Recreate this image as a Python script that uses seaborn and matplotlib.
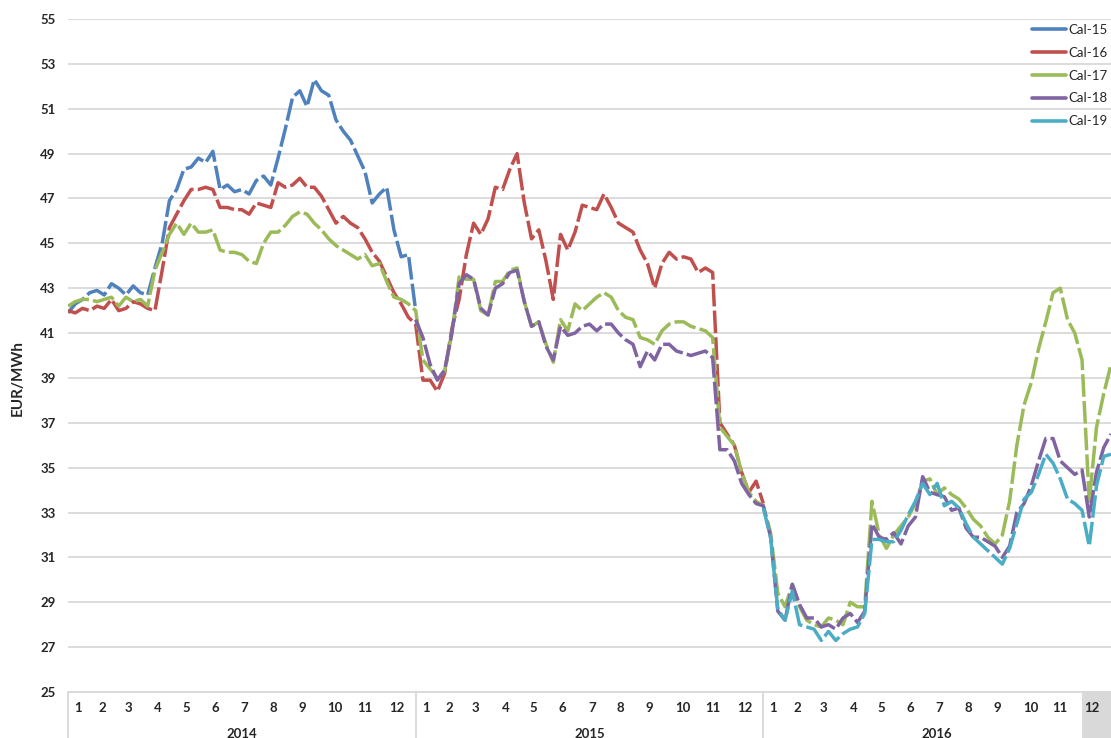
import numpy as np
import pandas as pd
import matplotlib
matplotlib.use('Agg')
import matplotlib.pyplot as plt
import matplotlib.transforms as mtransforms
from matplotlib.lines import Line2D
import seaborn as sns

# readings every quarter month, x = months since Jan 2014
step = 0.25

# Cal-15: Jan 2014 .. Jan 2015
cal15 = [41.9, 42.3, 42.5, 42.8, 42.9, 42.7, 43.2, 43.0, 42.7, 43.1, 42.8, 42.7, 43.9,
         45.0, 46.9, 47.4, 48.3, 48.4, 48.8, 48.6, 49.1, 47.4, 47.6, 47.3, 47.4,
         47.2, 47.8, 48.0, 47.6, 48.8, 50.1, 51.5, 51.8, 51.1, 52.3, 51.8, 51.6,
         50.5, 50.0, 49.6, 48.9, 48.2, 46.8, 47.2, 47.5, 45.6, 44.4, 44.5, 42.0]
# Cal-16: Jan 2014 .. Jan 2016
cal16 = [42.0, 41.9, 42.1, 42.0, 42.2, 42.1, 42.5, 42.0, 42.1, 42.4, 42.3, 42.1, 42.0,
         43.8, 45.7, 46.3, 46.9, 47.4, 47.4, 47.5, 47.4, 46.6, 46.6, 46.5, 46.5,
         46.3, 46.8, 46.7, 46.6, 47.7, 47.5, 47.6, 47.9, 47.5, 47.5, 47.1, 46.5,
         45.9, 46.2, 45.9, 45.7, 45.2, 44.6, 44.2, 43.5, 42.8, 42.3, 41.7, 41.4,
         38.9, 38.9, 38.4, 39.2, 41.2, 42.5, 44.5, 45.9, 45.4, 46.1, 47.5, 47.4,
         48.3, 49.0, 46.8, 45.2, 45.6, 44.2, 42.5, 45.4, 44.7, 45.5, 46.7, 46.6,
         46.5, 47.2, 46.6, 45.9, 45.7, 45.5, 44.7, 44.1, 43.0, 44.1, 44.6, 44.3,
         44.4, 44.3, 43.7, 43.9, 43.7, 37.0, 36.5, 36.0, 34.8, 33.9, 34.4, 33.4]
# Cal-17: Jan 2014 .. Dec 2016
cal17 = [42.2, 42.4, 42.5, 42.5, 42.4, 42.5, 42.6, 42.2, 42.6, 42.4, 42.5, 42.2, 43.8,
         44.6, 45.4, 45.9, 45.4, 45.9, 45.5, 45.5, 45.6, 44.7, 44.6, 44.6, 44.5,
         44.2, 44.1, 45.0, 45.5, 45.5, 45.8, 46.2, 46.4, 46.3, 45.9, 45.6, 45.2,
         44.9, 44.7, 44.5, 44.3, 44.5, 44.0, 44.1, 43.3, 42.6, 42.5, 42.3, 42.0,
         39.8, 39.4, 39.0, 39.3, 41.0, 43.5, 43.4, 43.4, 42.0, 41.8, 43.3, 43.3,
         43.8, 43.9, 42.4, 41.3, 41.5, 40.5, 39.7, 41.6, 41.1, 42.3, 42.0, 42.3,
         42.6, 42.8, 42.6, 42.0, 41.7, 41.6, 40.8, 40.7, 40.5, 41.1, 41.4, 41.5,
         41.5, 41.3, 41.2, 41.1, 40.8, 36.8, 36.4, 36.0, 34.8, 33.9, 33.5, 33.3,
         32.1, 29.4, 28.8, 29.8, 28.8, 28.2, 28.0, 27.9, 28.3, 28.2, 28.0, 29.0,
         28.8, 28.8, 33.5, 32.0, 31.4, 32.0, 32.4, 32.8, 33.4, 34.4, 34.5, 33.8,
         34.1, 33.8, 33.6, 33.2, 32.7, 32.4, 31.9, 31.6, 32.0, 33.5, 36.0, 37.8,
         38.8, 40.3, 41.5, 42.8, 43.0, 41.6, 41.0, 39.8, 33.5, 36.8, 38.3, 39.6]
# Cal-18: Jan 2015 .. Dec 2016
cal18 = [41.6, 40.8, 39.6, 38.9, 39.35, 41.0, 43.2, 43.6, 43.4, 42.1, 41.8, 43.0, 43.2,
         43.7, 43.8, 42.4, 41.3, 41.5, 40.4, 39.8, 41.3, 40.9, 41.0, 41.3, 41.4,
         41.1, 41.4, 41.4, 41.0, 40.7, 40.5, 39.5, 40.2, 39.8, 40.5, 40.5, 40.2,
         40.1, 40.0, 40.1, 40.2, 39.9, 35.8, 35.8, 35.3, 34.3, 33.8, 33.4, 33.3,
         31.9, 28.6, 28.2, 29.8, 28.9, 28.3, 28.3, 27.9, 28.0, 27.8, 28.3, 28.5,
         28.1, 28.6, 32.5, 31.9, 31.8, 32.1, 31.6, 32.4, 32.8, 34.6, 33.9, 33.8,
         33.7, 33.1, 33.2, 32.3, 31.9, 31.9, 31.7, 31.5, 31.0, 31.5, 33.0, 33.4,
         34.2, 35.3, 36.3, 36.3, 35.3, 35.0, 34.7, 34.9, 32.8, 34.8, 35.9, 36.5]
# Cal-19: Jan 2016 .. Dec 2016
cal19 = [33.2, 31.9, 28.7, 28.2, 29.5, 28.0, 27.9, 27.8, 27.3, 27.7, 27.3, 27.6, 27.8,
         27.9, 28.5, 31.8, 31.8, 31.7, 31.7, 32.2, 32.9, 33.5, 34.3, 33.8, 34.3,
         33.3, 33.5, 33.2, 32.5, 31.9, 31.6, 31.3, 31.0, 30.7, 31.4, 32.5, 33.6,
         33.9, 34.7, 35.6, 35.2, 34.5, 33.6, 33.4, 33.1, 31.5, 34.2, 35.5, 35.6]

contracts = ['Cal-15', 'Cal-16', 'Cal-17', 'Cal-18', 'Cal-19']
start_month = [0, 0, 0, 12, 24]
values = [cal15, cal16, cal17, cal18, cal19]
colors = ['#4F81BD', '#C0504D', '#9BBB59', '#8064A2', '#4BACC6']

years = ['2014', '2015', '2016']
months = [str(m) for m in range(1, 13)]

rows = []
for name, s, vals in zip(contracts, start_month, values):
    for i, v in enumerate(vals):
        rows.append({'month': s + i * step, 'price': v, 'contract': name})
df = pd.DataFrame(rows)

sns.set_style('white')
plt.rcParams['font.family'] = ['Lato', 'DejaVu Sans']

W, H = 1111, 738
fig = plt.figure(figsize=(W / 100, H / 100), dpi=100)
ax = fig.add_axes([68 / W, 1 - 692 / H, 1 - 68 / W, (692 - 19) / H])

sns.lineplot(data=df, x='month', y='price', hue='contract', hue_order=contracts,
             palette=dict(zip(contracts, colors)), estimator=None, lw=2.5,
             legend=False, ax=ax)
for ln in ax.get_lines():
    ln.set_dashes((6.5, 1.2))

ax.set_xlim(0, 36)
ax.set_ylim(25, 55)
ax.set_yticks(range(25, 56, 2))
ax.set_xticks([])
ax.set_xlabel('')
ax.set_ylabel('')
ax.yaxis.grid(True, color='#D9D9D9', lw=1.3)
ax.set_axisbelow(True)
for side in ['left', 'top', 'right']:
    ax.spines[side].set_visible(False)
ax.spines['bottom'].set_color('#D9D9D9')
ax.spines['bottom'].set_linewidth(1.3)
ax.tick_params(axis='y', length=0, pad=9, labelsize=9.5)
for t in ax.get_yticklabels():
    t.set_fontweight('bold')

fig.text(18 / W, 1 - 378 / H, 'EUR/MWh', rotation=90, ha='center', va='center',
         fontweight='bold', fontsize=11)

# two level category axis below the plot
trans = mtransforms.blended_transform_factory(ax.transData, ax.transAxes)
ax.axvspan(35, 36, ymin=-0.07, ymax=0, clip_on=False, facecolor='#D9D9D9',
           edgecolor='none', zorder=0)
for k in range(4):
    ax.axvline(12 * k, ymin=-0.07, ymax=0, clip_on=False, color='#D9D9D9', lw=1.3)
label_pos = [0.345, 1.17, 2.07, 3.11, 4.07, 5.07, 6.08, 7.08, 8.08, 9.22, 10.25, 11.35]
for k, yr in enumerate(years):
    for pos, m in zip(label_pos, months):
        ax.text(12 * k + pos, -0.0238, m, transform=trans, ha='center', va='center',
                fontweight='bold', fontsize=9.5, clip_on=False)
    ax.text(12 * k + 6, -0.0625, yr, transform=trans, ha='center', va='center',
            fontweight='bold', fontsize=9.5, clip_on=False)

handles = [Line2D([], [], color=c, lw=2.6) for c in colors]
fig.legend(handles, contracts, loc='upper right', bbox_to_anchor=(1108 / W, 1 - 24 / H),
           frameon=False, fontsize=9.5, handlelength=2.6, handletextpad=0.2,
           labelspacing=0.82, borderpad=0, borderaxespad=0)

fig.savefig('out.png', dpi=100)
